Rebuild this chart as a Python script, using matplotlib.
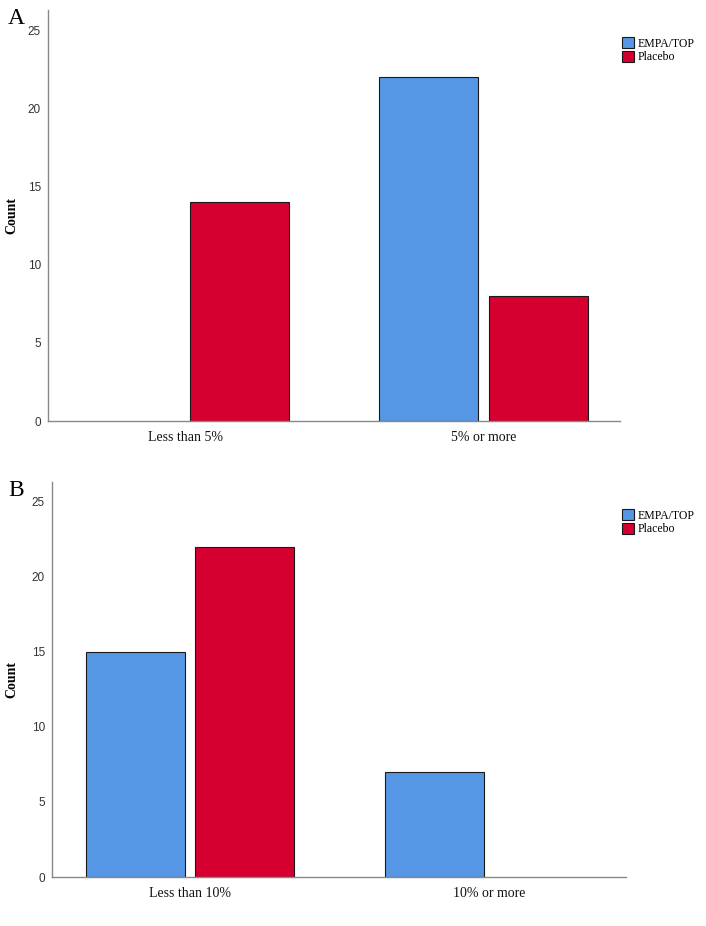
import matplotlib
matplotlib.use("Agg")
import matplotlib.pyplot as plt
import numpy as np
from matplotlib.patches import Patch

series = ["EMPA/TOP", "Placebo"]
cats_a = ["Less than 5%", "5% or more"]
empa_a = [0, 22]
placebo_a = [14, 8]
cats_b = ["Less than 10%", "10% or more"]
empa_b = [15, 7]
placebo_b = [22, 0]
yticks = [0, 5, 10, 15, 20, 25]

blue = "#5596E5"
red = "#D5002F"
serif = "Liberation Serif"
sans = "Liberation Sans"

fig = plt.figure(figsize=(7.06, 9.26), dpi=100)
W, H = 706, 926

def make_axes(l, r, b, t):
    return fig.add_axes([l / W, 1 - b / H, (r - l) / W, (b - t) / H])

axA = make_axes(48, 620, 421, 10)
axB = make_axes(52, 626, 877, 482)

w = 0.332
off = 0.183

def draw(ax, cats, e, p):
    x = np.arange(len(cats))
    for xi, v in zip(x, e):
        if v > 0:
            ax.bar(xi - off, v, width=w, color=blue, edgecolor="#1a1a1a", linewidth=0.8)
    for xi, v in zip(x, p):
        if v > 0:
            ax.bar(xi + off, v, width=w, color=red, edgecolor="#1a1a1a", linewidth=0.8)
    ax.set_xlim(-0.461, 1.458)
    ax.set_ylim(0, 26.3)
    ax.set_yticks(yticks)
    ax.set_yticklabels([str(t) for t in yticks], fontfamily=sans, fontsize=8.5, color="#333333")
    ax.set_xticks(x)
    ax.set_xticklabels(cats, fontfamily=serif, fontsize=10, color="#111111")
    ax.tick_params(axis="both", length=0)
    ax.tick_params(axis="y", pad=5)
    ax.tick_params(axis="x", pad=7)
    for s in ["top", "right"]:
        ax.spines[s].set_visible(False)
    for s in ["left", "bottom"]:
        ax.spines[s].set_color("#888888")
        ax.spines[s].set_linewidth(1.0)

draw(axA, cats_a, empa_a, placebo_a)
draw(axB, cats_b, empa_b, placebo_b)

fig.text(12 / W, 1 - 215 / H, "Count", fontfamily=serif, fontsize=10, fontweight="bold",
         rotation=90, ha="center", va="center")
fig.text(12 / W, 1 - 680 / H, "Count", fontfamily=serif, fontsize=10, fontweight="bold",
         rotation=90, ha="center", va="center")

handles = [Patch(facecolor=blue, edgecolor="#1a1a1a", linewidth=0.8),
           Patch(facecolor=red, edgecolor="#1a1a1a", linewidth=0.8)]
for yy in [37, 509]:
    fig.legend(handles, series, loc="upper left", bbox_to_anchor=(622 / W, 1 - yy / H),
               frameon=False, prop={"family": serif, "size": 8.5},
               handlelength=1.05, handleheight=1.05, handletextpad=0.3,
               labelspacing=0.12, borderaxespad=0, borderpad=0)

fig.text(8 / W, 1 - 19 / H, "A", fontfamily=serif, fontsize=17, va="center", ha="left")
fig.text(8 / W, 1 - 490 / H, "B", fontfamily=serif, fontsize=17, va="center", ha="left")

fig.savefig("out.png", dpi=100)
